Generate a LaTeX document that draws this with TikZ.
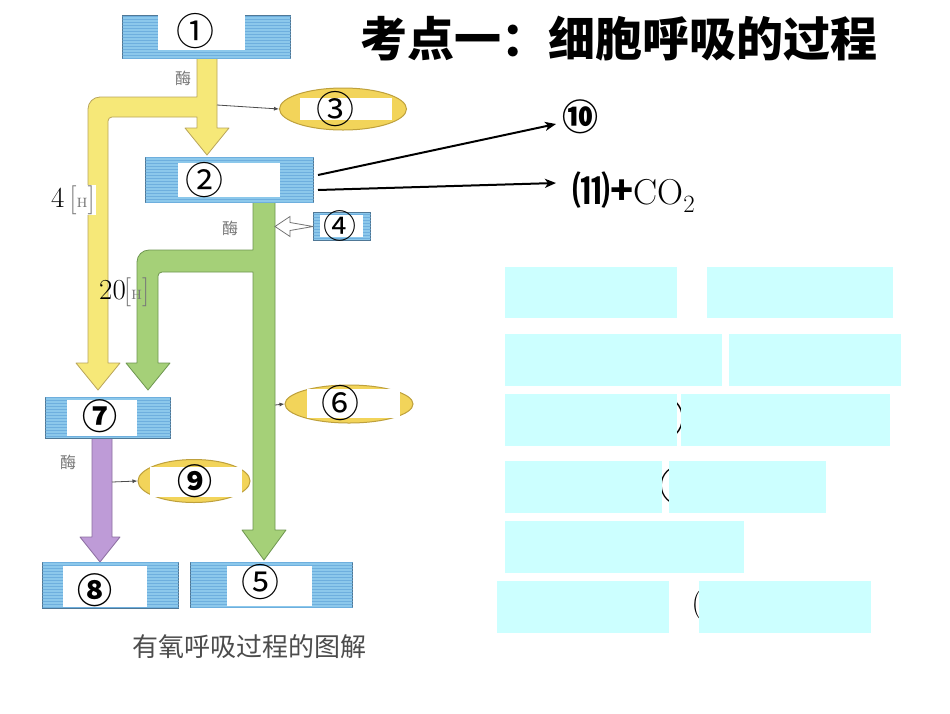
\documentclass[tikz,border=0pt]{standalone}
\usepackage{fontspec}
\newfontfamily\cjk{Noto Sans CJK SC}
\usetikzlibrary{patterns,arrows.meta,shapes.geometric}
\definecolor{boxblue}{RGB}{140,200,235}
\definecolor{hatchblue}{RGB}{110,175,222}
\definecolor{boxedge}{RGB}{80,120,150}
\definecolor{ylw}{RGB}{246,232,120}
\definecolor{ylwedge}{RGB}{185,165,90}
\definecolor{grn}{RGB}{165,208,120}
\definecolor{grnedge}{RGB}{110,150,80}
\definecolor{prp}{RGB}{190,155,215}
\definecolor{prpedge}{RGB}{140,110,160}
\definecolor{ellfill}{RGB}{242,212,90}
\definecolor{elledge}{RGB}{190,160,60}
\definecolor{cyanbox}{RGB}{204,255,255}
\definecolor{labgray}{RGB}{120,120,120}
\tikzset{
  bluebox/.style={draw=boxedge, line width=1pt, fill=boxblue,
    postaction={pattern=horizontal lines, pattern color=hatchblue},
    inner sep=0pt, anchor=north west},
  band/.style={line width=0.8pt, line join=round},
  ell/.style={ellipse, draw=elledge, line width=1pt, fill=ellfill, inner sep=0pt},
  num/.style={font=\cjk\fontsize{38}{38}\selectfont, inner sep=0pt},
  numb/.style={font=\cjk\bfseries\fontsize{35}{35}\selectfont, inner sep=0pt},
  enz/.style={font=\cjk\fontsize{16}{16}\selectfont, text=labgray, inner sep=0pt},
  thin arrow/.style={draw=black!70, line width=0.8pt, -{Latex[length=5pt,width=4pt]}},
  big arrow/.style={draw=black, line width=2pt, -{Stealth[length=11pt,width=9pt,inset=3pt]}},
  cyanrect/.style={fill=cyanbox},
  hlabel/.style={fill=white, inner sep=1pt, font=\fontsize{29}{29}\selectfont}
}
\begin{document}
\begin{tikzpicture}[x=1pt,y=-1pt]
\useasboundingbox (0,0) rectangle (950,713);
\fill[white] (0,0) rectangle (950,713);

% ---- bands ----
% yellow
\draw[band, draw=ylwedge, fill=ylw] (197,58) -- (197,97) -- (100,97)
  arc[start angle=90,end angle=180,radius=12pt] -- (88,363) -- (76,363) -- (98,390)
  -- (120,363) -- (108,363) -- (108,121) arc[start angle=180,end angle=90,radius=4pt]
  -- (197,117) -- (197,128) -- (185,128) -- (207,155) -- (229,128) -- (217,128)
  -- (217,58) -- cycle;
% green
\draw[band, draw=grnedge, fill=grn] (253,202) -- (253,250) -- (149,250)
  arc[start angle=90,end angle=180,radius=12pt] -- (137,363) -- (126,363) -- (148,390)
  -- (170,363) -- (158,363) -- (158,276) arc[start angle=180,end angle=90,radius=4pt]
  -- (253,272) -- (253,530) -- (242,530) -- (264,560) -- (286,530) -- (275,530)
  -- (275,202) -- cycle;
% purple
\draw[band, draw=prpedge, fill=prp] (92,438) -- (92,537) -- (80,537) -- (100,562)
  -- (120,537) -- (112,537) -- (112,438) -- cycle;

% ---- boxes ----
\node[bluebox, minimum width=168pt, minimum height=43pt] (b1) at (122,15) {};
\fill[white] (158,14.4) rectangle (245,50);
\node[num] (n1) at (195,31) {①};

\node[bluebox, minimum width=168pt, minimum height=45pt] (b2) at (145,157) {};
\fill[white] (178,163) rectangle (280,197);
\node[num] (n2) at (204,180) {②};

\node[bluebox, minimum width=57pt, minimum height=28pt] (b4) at (313,212) {};
\fill[white] (320,215) rectangle (363,237);
\node[num, font=\cjk\fontsize{33}{33}\selectfont] (n4) at (340,226) {④};

\node[bluebox, minimum width=125pt, minimum height=41pt] (b7) at (45,397) {};
\fill[white] (67,400) rectangle (137,436);
\node[numb] (n7) at (100,416) {⑦};

\node[bluebox, minimum width=136pt, minimum height=46pt] (b8) at (42,562) {};
\fill[white] (63,566) rectangle (147,607);
\node[numb] (n8) at (95,590) {⑧};

\node[bluebox, minimum width=162pt, minimum height=45pt] (b5) at (190,562) {};
\fill[white] (227,566) rectangle (312,606);
\node[num] (n5) at (260,582) {⑤};

% ---- ellipses ----
\node[ell, minimum width=127pt, minimum height=42pt] (e3) at (343,109) {};
\fill[white] (300,98) rectangle (392,120);
\node[num] (n3) at (335,109) {③};

\node[ell, minimum width=128pt, minimum height=38pt] (e6) at (349,404) {};
\fill[white] (307,389) rectangle (400,418);
\node[num] (n6) at (340,403) {⑥};

\node[ell, minimum width=112pt, minimum height=43pt] (e9) at (194,481) {};
\fill[white] (150,467) rectangle (242,497);
\node[numb] (n9) at (195,481) {⑨};

% ---- hollow arrow from 4 ----
\draw[draw=black!55, fill=white, line width=0.8pt] (b4.west) -- ++(-23,-4) -- ++(0,-6)
  -- ++(-15,10) -- ++(15,10) -- ++(0,-6) -- ++(23,-4);

% ---- small arrows ----
\coordinate (a3s) at (217,105);
\draw[thin arrow] (a3s) -- (e3.west);
\coordinate (a6s) at (275,405);
\draw[thin arrow] (a6s) -- (e6.west);
\coordinate (a9s) at (112,482);
\draw[thin arrow] (a9s) -- (e9.west);

% ---- labels ----
\node[enz] (z1) at (183,78) {酶};
\node[enz] (z2) at (230,228) {酶};
\node[enz] (z3) at (68,462) {酶};
\node[hlabel, anchor=west] (h4) at (50,200) {4\,{\color{labgray}[{\fontsize{18}{18}\selectfont\textsc{h}}]}};
\node[hlabel, anchor=west, fill=none] (h20) at (98,292) {20\kern-2pt{\color{labgray}[{\fontsize{18}{18}\selectfont\textsc{h}}]}};

% ---- right lines ----
\node[font=\cjk\bfseries\fontsize{36}{36}\selectfont, inner sep=0pt] (n10) at (580,117) {⑩};
\node[anchor=west, inner sep=0pt] (n11) at (572,192)
  {{\cjk\bfseries\fontsize{38}{38}\selectfont ⑾+}{\fontsize{36}{36}\selectfont CO$_2$}};
\coordinate (s10) at (318,175);
\coordinate (s11) at (318,190);
\coordinate (t10) at (556,124);
\coordinate (t11) at (556,183);
\draw[big arrow] (s10) -- (t10);
\draw[big arrow] (s11) -- (t11);

% ---- title and caption ----
\node[font=\cjk\bfseries\fontsize{47}{47}\selectfont, inner sep=0pt] (title) at (619,39) {考点一：细胞呼吸的过程};
\node[font=\cjk\fontsize{26}{26}\selectfont, text=black!70, inner sep=0pt] (cap) at (249,647) {有氧呼吸过程的图解};

% ---- hidden text fragments behind cover boxes ----
\node[font=\cjk\fontsize{50}{50}\selectfont, inner sep=0pt] (f1) at (660,418) {③};
\node[font=\cjk\fontsize{44}{44}\selectfont, inner sep=0pt] (f2) at (681,486) {③};
\node[font=\fontsize{30}{30}\selectfont, inner sep=0pt] (f3) at (697,605) {(};

% ---- cover rectangles ----
\fill[cyanrect] (505,267) rectangle (677,318);
\fill[cyanrect] (707,267) rectangle (893,318);
\fill[cyanrect] (505,334) rectangle (722,386);
\fill[cyanrect] (729,334) rectangle (901,386);
\fill[cyanrect] (505,394) rectangle (677,446);
\fill[cyanrect] (681,394) rectangle (890,446);
\fill[cyanrect] (505,461) rectangle (662,513);
\fill[cyanrect] (669,461) rectangle (826,513);
\fill[cyanrect] (505,521) rectangle (744,573);
\fill[cyanrect] (497,581) rectangle (669,633);
\fill[cyanrect] (699,581) rectangle (871,633);
\end{tikzpicture}
\end{document}
